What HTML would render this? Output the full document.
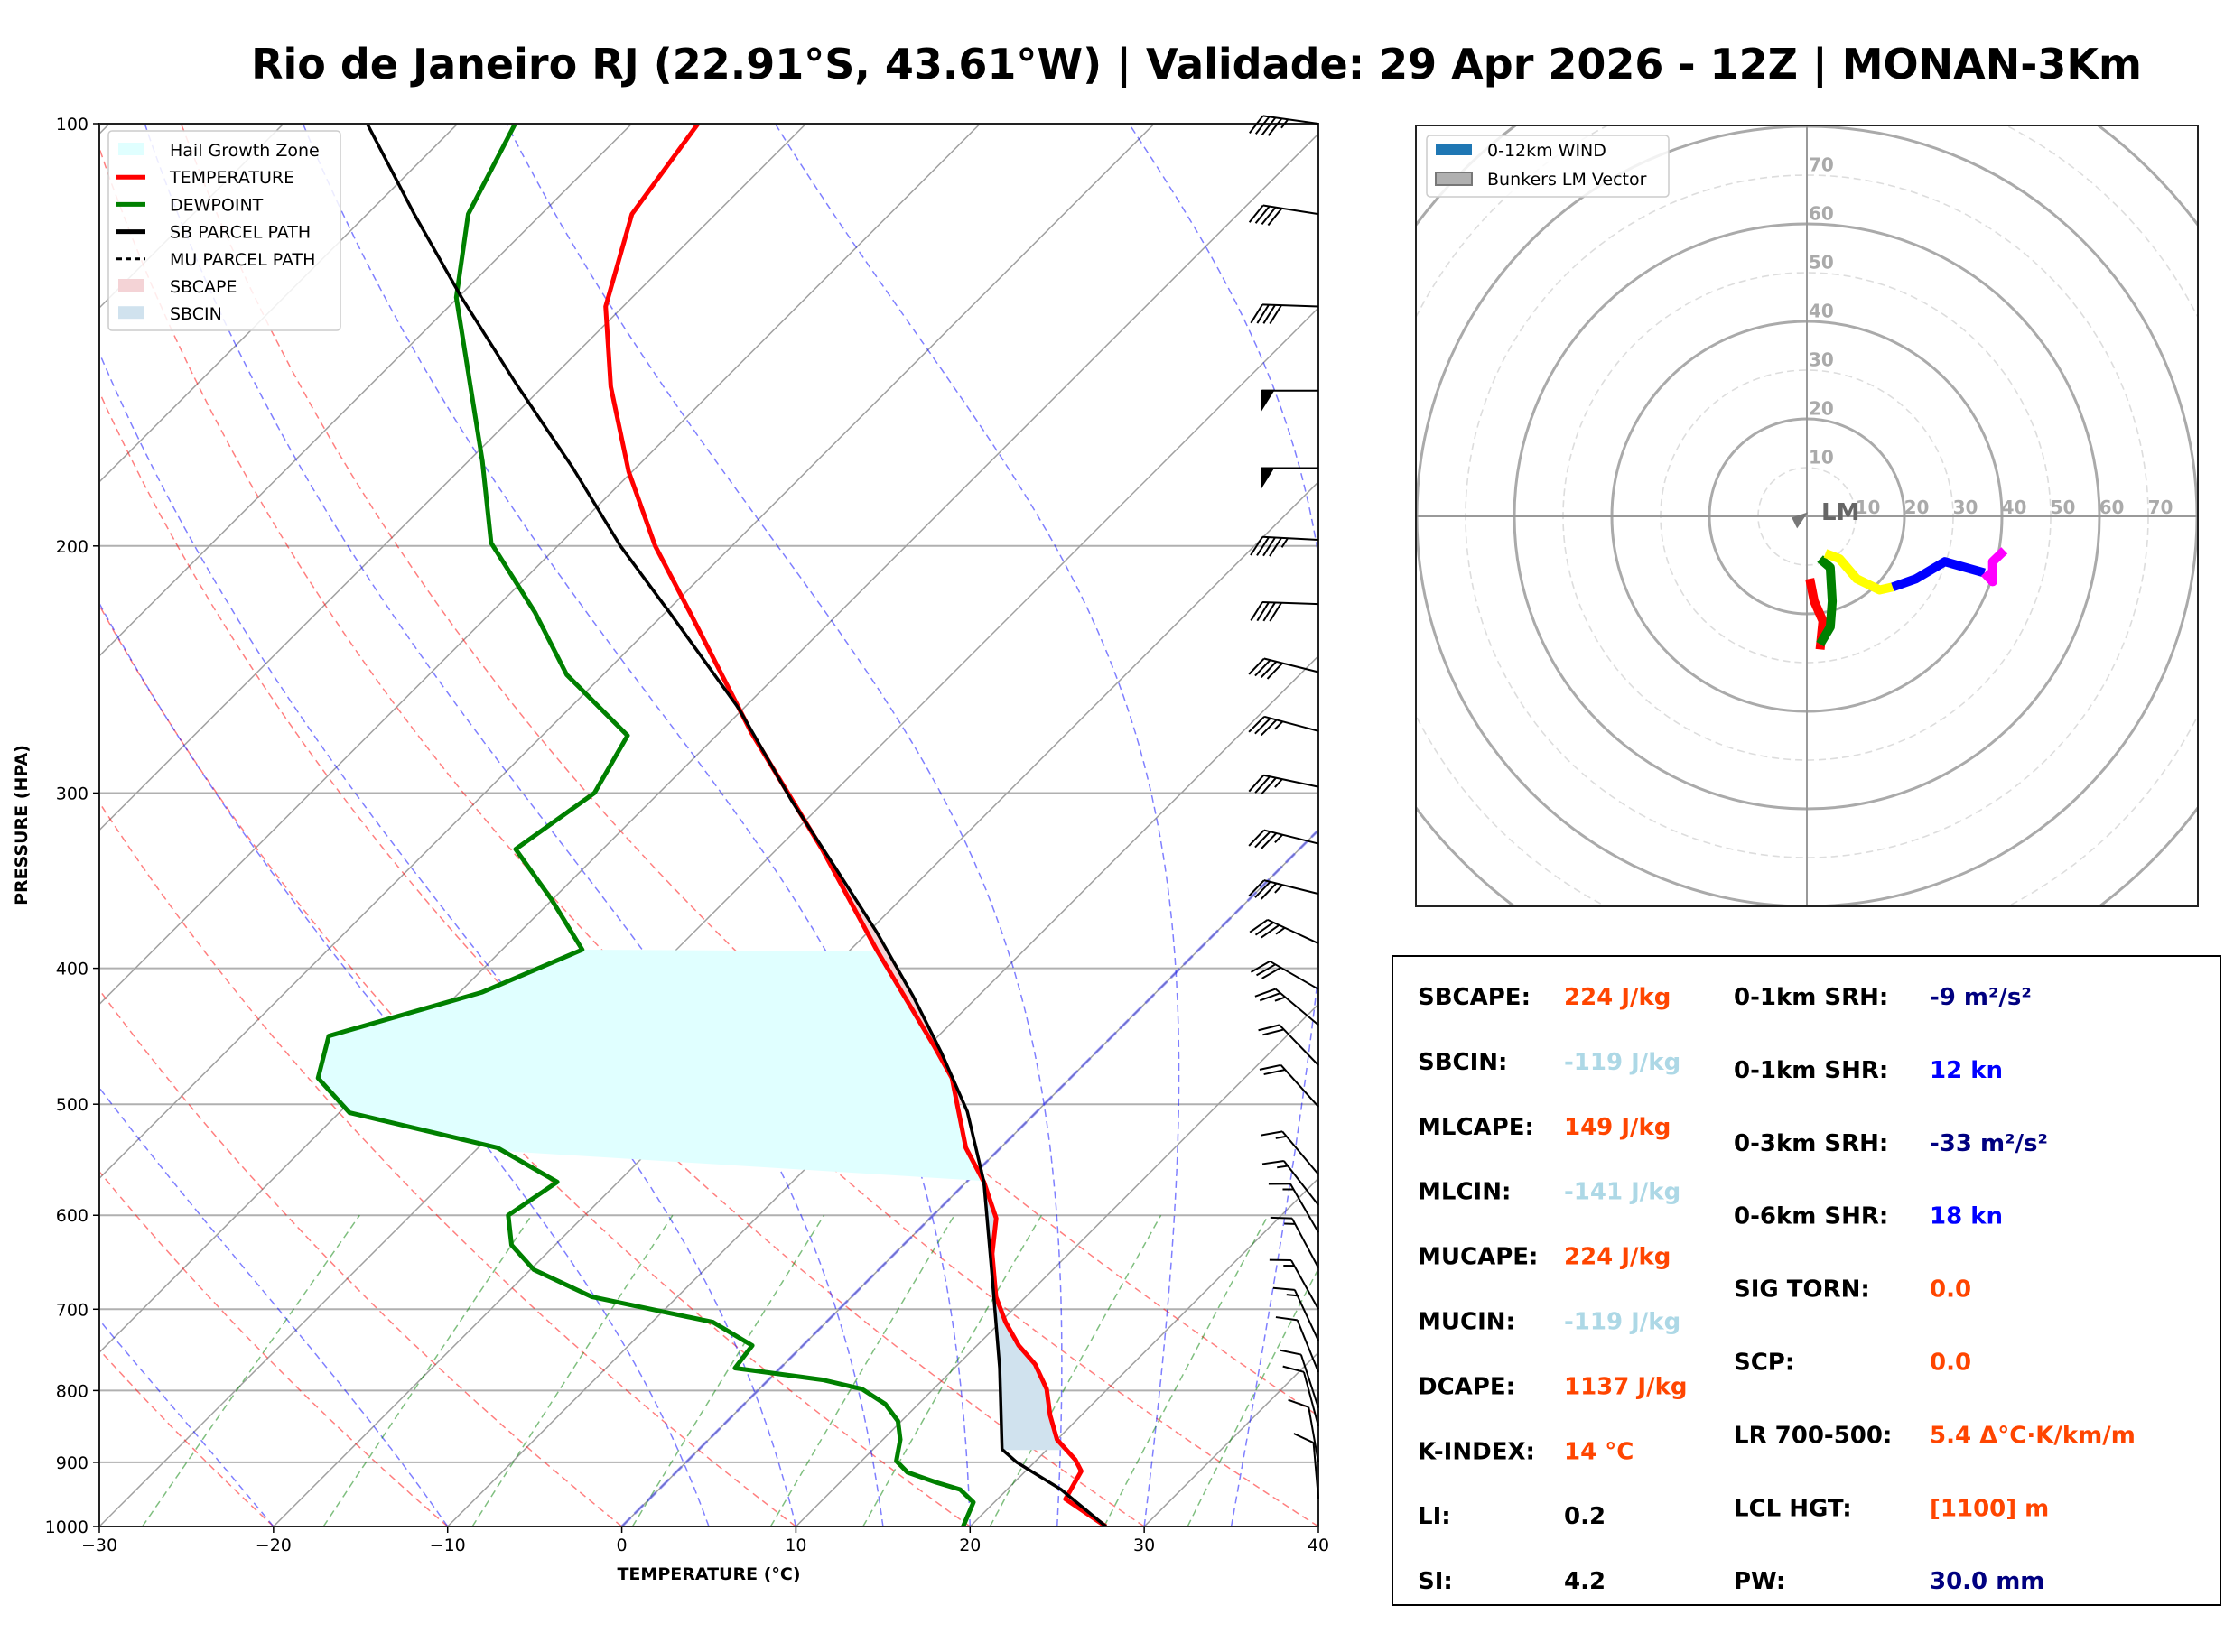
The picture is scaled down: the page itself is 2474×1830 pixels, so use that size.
<!DOCTYPE html>
<html><head><meta charset="utf-8">
<style>
html,body{margin:0;padding:0;background:#fff;}
svg{display:block;font-family:"DejaVu Sans","Liberation Sans",sans-serif;}
</style></head>
<body>
<svg id="fig" width="2474" height="1830" viewBox="0 0 2474 1830" xmlns="http://www.w3.org/2000/svg">
<defs>
<clipPath id="skewclip"><rect x="110" y="137" width="1350" height="1554"/></clipPath>
<clipPath id="hodoclip"><rect x="1568" y="139" width="866" height="865"/></clipPath>
</defs>
<rect width="2474" height="1830" fill="#fff"/>
<text x="1325" y="87" text-anchor="middle" font-size="46" font-weight="bold">Rio de Janeiro RJ (22.91°S, 43.61°W) | Validade: 29 Apr 2026 - 12Z | MONAN-3Km</text>
<g id="skew"></g>
<g id="hodo"></g>
<g id="stats"></g>
</svg>
<script>
// ---------- Sounding data ----------
const tempP = [1000,956,913,896,867,833,798,766,743,715,686,639,603,568,537,479,455,388,329,272,223,200,177,154,135,116,100];
const tempT = [27.8,23.9,23.2,22.2,20.0,18.2,16.5,14.4,12.4,10.3,8.3,5.6,3.8,1.0,-2.0,-6.8,-9.6,-18.5,-27.4,-38.1,-48.6,-54.4,-60.2,-66.1,-71.0,-74.8,-76.2];
const dewP = [1000,961,941,930,915,898,867,841,818,798,786,771,743,715,686,656,630,600,568,537,507,479,447,416,388,357,329,300,273,247,223,199,174,133,116,100];
const dewT = [19.6,18.8,17.3,15.5,13.3,12.0,11.0,9.8,8.1,5.9,3.1,-2.6,-2.9,-6.5,-14.9,-19.8,-22.5,-24.4,-23.5,-28.9,-39.4,-43.2,-45.0,-38.7,-35.4,-40.1,-45.0,-43.7,-45.1,-52.1,-57.5,-64.0,-69.2,-80.1,-84.2,-86.7];
const parcelP = [1000,941,900,881,771,665,568,506,460,419,377,339,304,261,224,200,176,153,133,116,100];
const parcelT = [27.8,23.1,19.0,17.4,12.6,7.0,1.0,-4.0,-8.8,-13.7,-19.5,-25.6,-31.9,-40.3,-49.5,-56.4,-63.6,-71.8,-79.8,-87.3,-95.2];
const hailTopP = 388, hailBotLeftP = 540, hailBotRightP = 567, cinBaseP = 882;
// wind barbs
const barbP = [100,116,135,155,176,198,220,246,271,297,326,354,384,414,439,469,502,561,590,617,654,700,737,776,823,848,900,955];
const barbSpd = [45,40,40,50,50,45,40,40,35,35,35,35,35,30,25,20,20,15,15,15,15,15,15,10,10,10,10,10];
const barbDir = [278,279,272,270,270,273,272,284,285,282,284,284,295,300,310,316,318,320,322,330,332,331,335,338,342,345,350,355];
// background lines
const isoTherms = [-120,-110,-100,-90,-80,-70,-60,-50,-40,-30,-20,-10,0,10,20,30,40];
const dryTheta = [-30,-20,-10,0,10,20,30,40,50];
const moistT0 = [-20,-10,5,10,15,20,25,30,35];
const mixRatios = [0.0004,0.001,0.002,0.004,0.007,0.01,0.016,0.024,0.032];
const pTicks = [100,200,300,400,500,600,700,800,900,1000];
const tTicks = [-30,-20,-10,0,10,20,30,40];
// hodograph layers (knots)
const hodoLayers = ['0-1km','1-3km','3-6km','6-9km','9-12km'];
const hodoColors = ['#ff0000','#008000','#ffff00','#0000ff','#ff00ff'];
const hodoU0 = [0.6,1.5,3.3,2.7]; const hodoV0 = [-12.8,-17.4,-21.5,-27.3];
const hodoU1 = [2.7,4.8,5.2,4.8,2.7]; const hodoV1 = [-26.2,-22.7,-17.4,-10.5,-8.7];
const hodoU2 = [3.8,6.7,10.2,14.9,17.6]; const hodoV2 = [-7.6,-8.7,-12.8,-15.1,-14.5];
const hodoU3 = [17.6,22.4,28.3,36.4]; const hodoV3 = [-14.5,-12.8,-9.3,-11.6];
const hodoU4 = [36.4,38.1,38.1,40.5]; const hodoV4 = [-11.6,-13.4,-9.3,-7.0];
const lmU = -2.0, lmV = -1.0;
const ringKn = [10,20,30,40,50,60,70,80,90,100];
const ringLabels = [10,20,30,40,50,60,70];

const NS='http://www.w3.org/2000/svg';
function mk(parent, tag, attrs){const e=document.createElementNS(NS,tag);for(const k in attrs)e.setAttribute(k,attrs[k]);parent.appendChild(e);return e;}
// ---------- Skew-T axes ----------
const X0=110, X1=1460, Y0=137, Y1=1691, PX=(X1-X0)/70;
function yP(p){return Y1-1554*Math.log10(1000/p);}
function xT(T,p){return X0+(T+30)*PX+(Y1-yP(p));}
const skew=document.getElementById('skew');
const cg=mk(skew,'g',{'clip-path':'url(#skewclip)'});


function path(pts){return pts.map((q,i)=>(i?'L':'M')+q[0].toFixed(1)+','+q[1].toFixed(1)).join('');}
function profPts(P,T){return P.map((p,i)=>[xT(T[i],p),yP(p)]);}
// isobars
pTicks.forEach(p=>{const l=mk(cg,'line',{x1:X0,x2:X1,y1:yP(p),y2:yP(p),stroke:'#b0b0b0','stroke-width':2});

});
// isotherms
isoTherms.forEach(t=>{const l=mk(cg,'line',{x1:xT(t,1000),y1:yP(1000),x2:xT(t,100),y2:yP(100),stroke:'#a0a0a0','stroke-width':1.5});

});
// dry adiabats
dryTheta.forEach(th=>{const pts=[];for(let p=1000;p>=100;p-=10){const T=(th+273.15)*Math.pow(p/1000,0.286)-273.15;pts.push([xT(T,p),yP(p)]);}
const l=mk(cg,'path',{d:path(pts),fill:'none',stroke:'#ff0000','stroke-opacity':0.5,'stroke-width':1.5,'stroke-dasharray':'8,5'});

});
// moist adiabats
function es(Tc){return 6.112*Math.exp(17.67*Tc/(Tc+243.5));}
moistT0.forEach(t0=>{let T=t0+273.15;const pts=[[xT(t0,1000),yP(1000)]];
for(let p=1000;p>100;p-=2){const e=es(T-273.15);const rs=0.622*e/(p-e);
const dTdp=(287*T+2.5e6*rs)/(p*(1005+2.5e6*2.5e6*rs*0.622/(287*T*T)));T-=dTdp*2;pts.push([xT(T-273.15,p-2),yP(p-2)]);}
const l=mk(cg,'path',{d:path(pts),fill:'none',stroke:'#0000ff','stroke-opacity':0.5,'stroke-width':1.5,'stroke-dasharray':'8,5'});

});
// mixing ratio lines
mixRatios.forEach(w=>{const pts=[];for(let p=1000;p>=600;p-=10){const e=w*p/(0.622+w);const a=Math.log(e/6.112);const Td=243.5*a/(17.67-a);pts.push([xT(Td,p),yP(p)]);}
const l=mk(cg,'path',{d:path(pts),fill:'none',stroke:'#008000','stroke-opacity':0.5,'stroke-width':1.5,'stroke-dasharray':'8,5'});

});
// freezing isotherm highlight
const fz=mk(cg,'line',{x1:xT(0,1000),y1:yP(1000),x2:xT(0,100),y2:yP(100),stroke:'#3030ff','stroke-opacity':0.45,'stroke-width':3,'stroke-dasharray':'14,6'});


// interpolation in log p
function interp(P,T,p){for(let i=0;i<P.length-1;i++){if(p<=P[i]&&p>=P[i+1]){const f=(Math.log(P[i])-Math.log(p))/(Math.log(P[i])-Math.log(P[i+1]));return T[i]+f*(T[i+1]-T[i]);}}return T[T.length-1];}
// hail growth zone
{const pts=[];for(let p=hailTopP;p<=hailBotLeftP;p+=2)pts.push([xT(interp(dewP,dewT,p),p),yP(p)]);
for(let p=hailBotRightP;p>=hailTopP;p-=2)pts.push([xT(interp(tempP,tempT,p),p),yP(p)]);
const h=mk(cg,'path',{d:path(pts)+'Z',fill:'#e0ffff'});

}
// CAPE / CIN fills
function fillBetween(pHi,pLo,cond,color,name){let seg=[];const out=[];
for(let p=pHi;p>=pLo;p-=1){const tp=interp(parcelP,parcelT,p),te=interp(tempP,tempT,p);
if(cond(tp,te)){seg.push([p,tp,te]);}else if(seg.length){out.push(seg);seg=[];}}
if(seg.length)out.push(seg);
out.forEach(s=>{const a=s.map(q=>[xT(q[1],q[0]),yP(q[0])]);const b=s.slice().reverse().map(q=>[xT(q[2],q[0]),yP(q[0])]);
const e=mk(cg,'path',{d:path(a.concat(b))+'Z',fill:color});

});}
fillBetween(cinBaseP,400,(tp,te)=>tp<te,'#d0e2ee','sbcin-fill');
fillBetween(500,150,(tp,te)=>tp>te,'#f4d3d6','sbcape-fill');
// profiles
const tl=mk(cg,'path',{d:path(profPts(tempP,tempT)),fill:'none',stroke:'#ff0000','stroke-width':5,'stroke-linejoin':'round'});


const dl=mk(cg,'path',{d:path(profPts(dewP,dewT)),fill:'none',stroke:'#008000','stroke-width':5,'stroke-linejoin':'round'});


const pl=mk(cg,'path',{d:path(profPts(parcelP,parcelT)),fill:'none',stroke:'#000','stroke-width':3.5,'stroke-linejoin':'round'});


// frame
const fr=mk(skew,'rect',{x:X0,y:Y0,width:X1-X0,height:Y1-Y0,fill:'none',stroke:'#222','stroke-width':2});


// wind barbs
barbP.forEach((p,i)=>{const g=mk(skew,'g',{stroke:'#000','stroke-width':2,fill:'#000'});


const bx=X1,by=yP(p),L=62,d=barbDir[i]*Math.PI/180;const sx=Math.sin(d),sy=-Math.cos(d);
const tx=bx+sx*L,ty=by+sy*L;mk(g,'line',{x1:bx,y1:by,x2:tx,y2:ty});
const fx=sy,fy=-sx; // feathers hang below the staff
const fl=24;let s=Math.round(barbSpd[i]/5)*5;let pos=0;
const f2x=(fx*0.87+sx*0.5), f2y=(fy*0.87+sy*0.5);
while(s>=50){const ax=tx-sx*pos,ay=ty-sy*pos;const cx=tx-sx*(pos+12),cy=ty-sy*(pos+12);
mk(g,'polygon',{points:`${ax},${ay} ${cx},${cy} ${ax+fx*fl*0.8},${ay+fy*fl*0.8}`});pos+=15;s-=50;}
while(s>=10){const ax=tx-sx*pos,ay=ty-sy*pos;mk(g,'line',{x1:ax,y1:ay,x2:ax+f2x*fl,y2:ay+f2y*fl});pos+=7;s-=10;}
if(s>=5){if(pos===0)pos=7;const ax=tx-sx*pos,ay=ty-sy*pos;mk(g,'line',{x1:ax,y1:ay,x2:ax+f2x*fl*0.5,y2:ay+f2y*fl*0.5});}
});
// ticks and labels
pTicks.forEach(p=>{const t=mk(skew,'line',{x1:X0-7,x2:X0,y1:yP(p),y2:yP(p),stroke:'#000','stroke-width':1.5});


const l=mk(skew,'text',{x:X0-12,y:yP(p)+7,'text-anchor':'end','font-size':19});l.textContent=p;

});
tTicks.forEach(t=>{const x=X0+(t+30)*PX;const k=mk(skew,'line',{x1:x,x2:x,y1:Y1,y2:Y1+7,stroke:'#000','stroke-width':1.5});


const l=mk(skew,'text',{x:x,y:Y1+27,'text-anchor':'middle','font-size':19});l.textContent=(t<0?'\u2212'+(-t):t);

});
// legend
{const lg=mk(skew,'g',{});


mk(lg,'rect',{x:120,y:145,width:257,height:221,rx:4,fill:'#fff','fill-opacity':0.85,stroke:'#ccc','stroke-width':1.5});
const items=[['Hail Growth Zone','patch','#e0ffff'],['TEMPERATURE','line','#ff0000'],['DEWPOINT','line','#008000'],['SB PARCEL PATH','line','#000'],['MU PARCEL PATH','dash','#000'],['SBCAPE','patch','#f4d3d6'],['SBCIN','patch','#d0e2ee']];
items.forEach((it,i)=>{const y=166+i*30.2;const e=mk(lg,'g',{});


if(it[1]==='patch')mk(e,'rect',{x:131,y:y-8,width:28,height:14,fill:it[2]});
else mk(e,'line',{x1:129,x2:161,y1:y,y2:y,stroke:it[2],'stroke-width':it[1]==='dash'?3:5,'stroke-dasharray':it[1]==='dash'?'6,4':'none'});
const t=mk(e,'text',{x:188,y:y+7,'font-size':19});t.textContent=it[0];});}
const xl=mk(skew,'text',{x:785,y:1750,'text-anchor':'middle','font-size':19,'font-weight':'bold'});xl.textContent='TEMPERATURE (°C)';


const yl=mk(skew,'text',{x:30,y:914,'text-anchor':'middle','font-size':19,'font-weight':'bold',transform:'rotate(-90 30 914)'});yl.textContent='PRESSURE (HPA)';



// ---------- Hodograph ----------
const hodo=document.getElementById('hodo');
const HX=2001,HY=572,KN=5.4;
const hg=mk(hodo,'g',{'clip-path':'url(#hodoclip)'});


ringKn.forEach(r=>{const c=mk(hg,'circle',{cx:HX,cy:HY,r:r*KN,fill:'none',stroke:r%20===0?'#aaa':'#ddd','stroke-width':r%20===0?3:1.6,'stroke-dasharray':r%20===0?'none':'8,5'});

});
{const a=mk(hg,'line',{x1:1568,x2:2434,y1:HY,y2:HY,stroke:'#999','stroke-width':2});


const b=mk(hg,'line',{x1:HX,x2:HX,y1:139,y2:1004,stroke:'#999','stroke-width':2});

}
ringLabels.forEach(r=>{const t1=mk(hg,'text',{x:HX+2,y:HY-(r+2.3)*KN+8,'font-size':20,'font-weight':'bold',fill:'#aaa'});t1.textContent=r;


const t2=mk(hg,'text',{x:HX+(r+2.5)*KN,y:HY-3,'text-anchor':'middle','font-size':20,'font-weight':'bold',fill:'#aaa'});t2.textContent=r;

});
const HU=[hodoU0,hodoU1,hodoU2,hodoU3,hodoU4],HV=[hodoV0,hodoV1,hodoV2,hodoV3,hodoV4];
HU.forEach((us,k)=>{const pts=us.map((u,i)=>[HX+u*KN,HY-HV[k][i]*KN]);
const l=mk(hg,'path',{d:path(pts),fill:'none',stroke:hodoColors[k],'stroke-width':10,'stroke-linejoin':'round'});

});
{const mx=HX+lmU*KN,my=HY-lmV*KN;const m=mk(hg,'polygon',{points:`${mx-6},${my-4} ${mx+12},${my-10} ${mx},${my+8}`,fill:'#777'});


const t=mk(hg,'text',{x:HX+16,y:HY+4,'font-size':26,'font-weight':'bold',fill:'#666'});t.textContent='LM';

}
{const f=mk(hodo,'rect',{x:1568,y:139,width:866,height:865,fill:'none',stroke:'#222','stroke-width':2});


const lg=mk(hodo,'g',{});


mk(lg,'rect',{x:1580,y:150,width:268,height:68,rx:4,fill:'#fff','fill-opacity':0.85,stroke:'#ccc','stroke-width':1.5});
mk(lg,'rect',{x:1590,y:160,width:40,height:12,fill:'#1f77b4'});
mk(lg,'rect',{x:1590,y:191,width:40,height:14,fill:'#b0b0b0',stroke:'#777','stroke-width':2});
const a=mk(lg,'text',{x:1647,y:173,'font-size':19});a.textContent='0-12km WIND';
const b=mk(lg,'text',{x:1647,y:205,'font-size':19});b.textContent='Bunkers LM Vector';}

// ---------- Stats ----------
const st=document.getElementById('stats');
{const r=mk(st,'rect',{x:1542,y:1059,width:917,height:719,fill:'#fff',stroke:'#000','stroke-width':2});

}
const OR='#ff4500',LB='#add8e6',NV='#000080',BL='#0000ff',BK='#000';
const leftRows=[['SBCAPE:','224 J/kg',OR],['SBCIN:','-119 J/kg',LB],['MLCAPE:','149 J/kg',OR],['MLCIN:','-141 J/kg',LB],['MUCAPE:','224 J/kg',OR],['MUCIN:','-119 J/kg',LB],['DCAPE:','1137 J/kg',OR],['K-INDEX:','14 °C',OR],['LI:','0.2',BK],['SI:','4.2',BK]];
const rightRows=[['0-1km SRH:','-9 m²/s²',NV],['0-1km SHR:','12 kn',BL],['0-3km SRH:','-33 m²/s²',NV],['0-6km SHR:','18 kn',BL],['SIG TORN:','0.0',OR],['SCP:','0.0',OR],['LR 700-500:','5.4 Δ°C·K/km/m',OR],['LCL HGT:','[1100] m',OR],['PW:','30.0 mm',NV]];
leftRows.forEach((r,i)=>{const y=1113+i*71.9;
const a=mk(st,'text',{x:1570,y:y,'font-size':26,'font-weight':'bold'});a.textContent=r[0];


const b=mk(st,'text',{x:1732,y:y,'font-size':26,'font-weight':'bold',fill:r[2]});b.textContent=r[1];

});
rightRows.forEach((r,i)=>{const y=1113+i*80.9;
const a=mk(st,'text',{x:1920,y:y,'font-size':26,'font-weight':'bold'});a.textContent=r[0];


const b=mk(st,'text',{x:2137,y:y,'font-size':26,'font-weight':'bold',fill:r[2]});b.textContent=r[1];

});
</script>
</body></html>
